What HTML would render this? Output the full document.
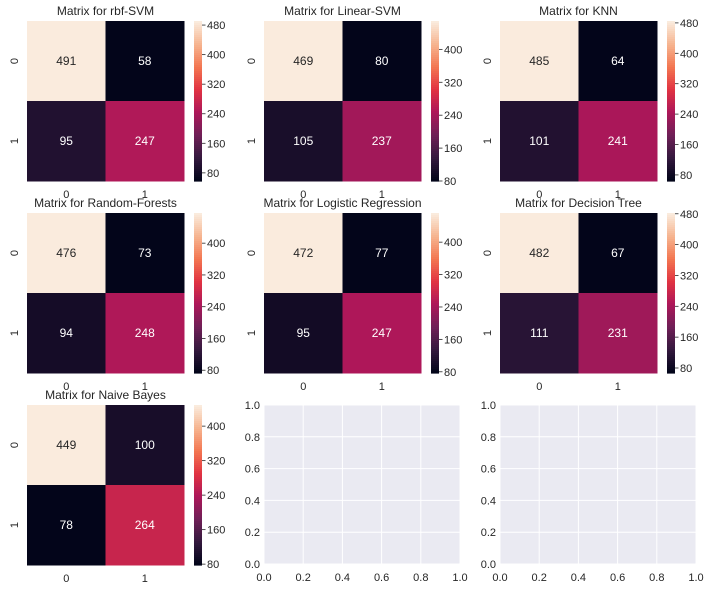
<!DOCTYPE html>
<html><head><meta charset="utf-8"><style>
body{margin:0;background:#fff;}
svg{display:block;font-family:"Liberation Sans",Arial,sans-serif;}
</style></head><body>
<svg id="fig" width="711" height="591" viewBox="0 0 711 591"></svg>
<script>
const titles = ["Matrix for rbf-SVM","Matrix for Linear-SVM","Matrix for KNN","Matrix for Random-Forests","Matrix for Logistic Regression","Matrix for Decision Tree","Matrix for Naive Bayes"];
const tn = [491,469,485,476,472,482,449];
const fp = [58,80,64,73,77,67,100];
const fn = [95,105,101,94,95,111,78];
const tp = [247,237,241,248,247,231,264];
const cbarTicks = [80,160,240,320,400,480];
const emptyTicks = ["0.0","0.2","0.4","0.6","0.8","1.0"];

const NS="http://www.w3.org/2000/svg";
const svg=document.getElementById('fig');
function mk(tag,attrs,parent){const e=document.createElementNS(NS,tag);for(const k in attrs)e.setAttribute(k,attrs[k]);(parent||svg).appendChild(e);return e;}
const stops=[[0,[3,5,26]],[1/7,[0x35,0x19,0x3e]],[2/7,[0x70,0x1f,0x57]],[3/7,[0xad,0x17,0x59]],[4/7,[0xe1,0x33,0x42]],[5/7,[0xf3,0x76,0x51]],[6/7,[0xf6,0xb4,0x8f]],[1,[0xfa,0xeb,0xdd]]];
function rocket(t){t=Math.max(0,Math.min(1,t));for(let i=1;i<stops.length;i++){if(t<=stops[i][0]){const a=stops[i-1],b=stops[i];const f=(t-a[0])/(b[0]-a[0]);return a[1].map((v,j)=>Math.round(v+(b[1][j]-v)*f));}}return stops[stops.length-1][1];}
const colX=[27,264,500], rowY=[21,213,405];
const HW=157, H=160, CBX=167, CBW=8;
const tc="#262626";
for(let k=0;k<titles.length;k++){
  const g=mk('g',{});
  
  
  const x0=colX[k%3], y0=rowY[Math.floor(k/3)];
  const vals=[[tn[k],fp[k]],[fn[k],tp[k]]];
  const all=[tn[k],fp[k],fn[k],tp[k]];
  const vmin=Math.min(...all), vmax=Math.max(...all);
  const cw=HW/2, ch=H/2;
  const t=mk('text',{x:x0+HW/2,y:y0-6,'text-anchor':'middle','font-size':12,fill:tc},g);
  t.textContent=titles[k];
  
  
  for(let r=0;r<2;r++)for(let c=0;c<2;c++){
    const v=vals[r][c];const col=rocket((v-vmin)/(vmax-vmin));
    const rc=mk('rect',{x:x0+c*cw,y:y0+r*ch,width:cw+0.5,height:ch+0.5,fill:`rgb(${col})`},g);
    
    
    const lum=(0.2126*col[0]+0.7152*col[1]+0.0722*col[2])/255;
    const tx=mk('text',{x:x0+c*cw+cw/2,y:y0+r*ch+ch/2+4,'text-anchor':'middle','font-size':12,fill:lum>0.5?tc:'#fff'},g);
    tx.textContent=v;
    
    
  }
  for(let i=0;i<2;i++){
    const xl=mk('text',{x:x0+cw*i+cw/2,y:y0+H+17,'text-anchor':'middle','font-size':11,fill:tc},g);
    xl.textContent=i;
    
    
    const yy=y0+ch*i+ch/2;
    const yl=mk('text',{x:x0-13,y:yy,'text-anchor':'middle','font-size':11,fill:tc,transform:`rotate(-90 ${x0-13} ${yy})`,dy:4},g);
    yl.textContent=i;
    
    
  }
  const cbx=x0+CBX;
  const N=80;
  for(let i=0;i<N;i++){
    const col=rocket(1-i/(N-1));
    mk('rect',{x:cbx,y:y0+i*H/N,width:CBW,height:H/N+0.6,fill:`rgb(${col})`},g);
  }
  for(const tv of cbarTicks){
    if(tv<vmin||tv>vmax)continue;
    const yy=y0+H-(tv-vmin)/(vmax-vmin)*H;
    mk('line',{x1:cbx+CBW,x2:cbx+CBW+3.5,y1:yy,y2:yy,stroke:tc,'stroke-width':0.8},g);
    const cl=mk('text',{x:cbx+CBW+5,y:yy+4,'font-size':11,fill:tc},g);
    cl.textContent=tv;
    
    
  }
}
for(let e=0;e<2;e++){
  const x0=colX[e+1], y0=rowY[2], W=196, Hh=159;
  const g=mk('g',{});
  
  
  mk('rect',{x:x0,y:y0,width:W,height:Hh,fill:'#eaeaf2'},g);
  emptyTicks.forEach((lab,i)=>{
    const xx=x0+W*i/5, yy=y0+Hh-Hh*i/5;
    mk('line',{x1:xx,x2:xx,y1:y0,y2:y0+Hh,stroke:'#fff','stroke-width':1},g);
    mk('line',{x1:x0,x2:x0+W,y1:yy,y2:yy,stroke:'#fff','stroke-width':1},g);
    const xl=mk('text',{x:xx,y:y0+Hh+17,'text-anchor':'middle','font-size':11,fill:tc},g);
    xl.textContent=lab;
    
    
    const yl=mk('text',{x:x0-4,y:yy+4,'text-anchor':'end','font-size':11,fill:tc},g);
    yl.textContent=lab;
    
    
  });
}
</script>
</body></html>
